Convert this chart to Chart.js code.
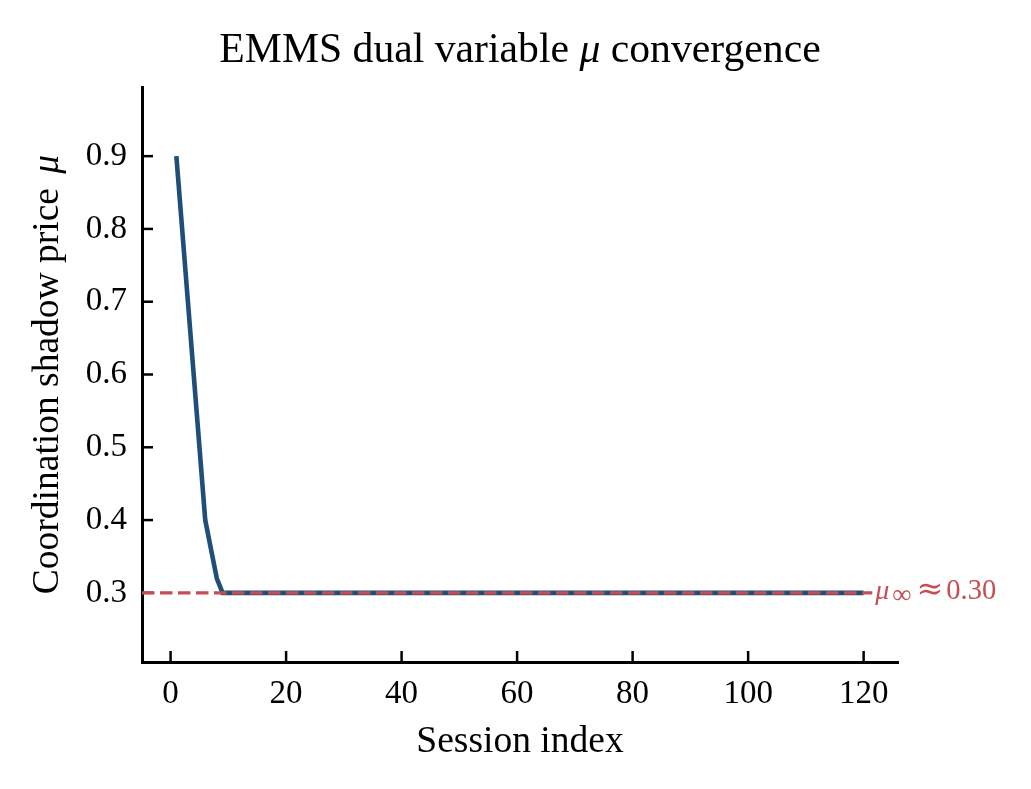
<!DOCTYPE html>
<html>
<head>
<meta charset="utf-8">
<script src="https://cdn.jsdelivr.net/npm/chart.js@4.4.1/dist/chart.umd.min.js"></script>
<style>
  html, body { margin: 0; padding: 0; background: #fff; }
  #wrap { width: 1031px; height: 789px; }
</style>
</head>
<body>
<div id="wrap"><canvas id="myChart" width="1031" height="789"></canvas></div>
<script>
// session index 1..120
const sessions = Array.from({ length: 120 }, (_, i) => i + 1);

// dual variable mu per session
const muValues = [
  0.9, 0.8, 0.7, 0.6, 0.5, 0.4, 0.36, 0.32, 0.3, 0.3,
  0.3, 0.3, 0.3, 0.3, 0.3, 0.3, 0.3, 0.3, 0.3, 0.3,
  0.3, 0.3, 0.3, 0.3, 0.3, 0.3, 0.3, 0.3, 0.3, 0.3,
  0.3, 0.3, 0.3, 0.3, 0.3, 0.3, 0.3, 0.3, 0.3, 0.3,
  0.3, 0.3, 0.3, 0.3, 0.3, 0.3, 0.3, 0.3, 0.3, 0.3,
  0.3, 0.3, 0.3, 0.3, 0.3, 0.3, 0.3, 0.3, 0.3, 0.3,
  0.3, 0.3, 0.3, 0.3, 0.3, 0.3, 0.3, 0.3, 0.3, 0.3,
  0.3, 0.3, 0.3, 0.3, 0.3, 0.3, 0.3, 0.3, 0.3, 0.3,
  0.3, 0.3, 0.3, 0.3, 0.3, 0.3, 0.3, 0.3, 0.3, 0.3,
  0.3, 0.3, 0.3, 0.3, 0.3, 0.3, 0.3, 0.3, 0.3, 0.3,
  0.3, 0.3, 0.3, 0.3, 0.3, 0.3, 0.3, 0.3, 0.3, 0.3,
  0.3, 0.3, 0.3, 0.3, 0.3, 0.3, 0.3, 0.3, 0.3, 0.3
];

// limiting value and the span of its dashed reference line
const muInf = 0.30;
const refLineX = [-4.95, 121.5];
const labelX = 122;

const xTicks = [0, 20, 40, 60, 80, 100, 120];
const yTicks = [0.3, 0.4, 0.5, 0.6, 0.7, 0.8, 0.9];

const xRange = [-4.95, 125.95];
const yRange = [0.205, 0.995];

const SERIF = "'Liberation Serif', 'Times New Roman', serif";
const BLUE = "#1f4e79";
const RED = "#c44e52";

// draws pieces of text one after another, each with its own font
function drawRuns(ctx, runs, x, y) {
  let cx = x;
  runs.forEach((r) => {
    ctx.font = r.font;
    cx += r.gap || 0;
    ctx.fillText(r.text, cx, y + (r.dy || 0));
    cx += ctx.measureText(r.text).width;
  });
}
function runsWidth(ctx, runs) {
  let w = 0;
  runs.forEach((r) => {
    ctx.font = r.font;
    w += (r.gap || 0) + ctx.measureText(r.text).width;
  });
  return w;
}

const innerTicks = {
  id: "innerTicks",
  beforeDatasetsDraw(chart) {
    const { ctx, chartArea } = chart;
    const xs = chart.scales.x;
    const ys = chart.scales.y;
    ctx.save();
    ctx.strokeStyle = "#000";
    ctx.lineWidth = 2.5;
    xTicks.forEach((v) => {
      const px = xs.getPixelForValue(v);
      ctx.beginPath();
      ctx.moveTo(px, chartArea.bottom);
      ctx.lineTo(px, chartArea.bottom - 11);
      ctx.stroke();
    });
    yTicks.forEach((v) => {
      const py = ys.getPixelForValue(v);
      ctx.beginPath();
      ctx.moveTo(chartArea.left, py);
      ctx.lineTo(chartArea.left + 11, py);
      ctx.stroke();
    });
    ctx.restore();
  },
};

const textLayer = {
  id: "textLayer",
  afterDraw(chart) {
    const { ctx, chartArea } = chart;
    const xs = chart.scales.x;
    const ys = chart.scales.y;
    const cx = (chartArea.left + chartArea.right) / 2;
    ctx.save();
    ctx.fillStyle = "#000";
    ctx.textBaseline = "alphabetic";
    ctx.textAlign = "left";

    // title
    const titleRuns = [
      { text: "EMMS dual variable ", font: "41.7px " + SERIF },
      { text: "μ", font: "italic 41.7px " + SERIF },
      { text: " convergence", font: "41.7px " + SERIF },
    ];
    drawRuns(ctx, titleRuns, cx - runsWidth(ctx, titleRuns) / 2, 62);

    // x label
    ctx.font = "37.5px " + SERIF;
    ctx.textAlign = "center";
    ctx.fillText("Session index", cx, 752);

    // y label
    ctx.textAlign = "left";
    const yRuns = [
      { text: "Coordination shadow price ", font: "37.5px " + SERIF },
      { text: "μ", font: "italic 37.5px " + SERIF, gap: 5 },
    ];
    ctx.save();
    ctx.translate(58, (chartArea.top + chartArea.bottom) / 2);
    ctx.rotate(-Math.PI / 2);
    drawRuns(ctx, yRuns, -runsWidth(ctx, yRuns) / 2, 0);
    ctx.restore();

    // annotation for the limit
    ctx.fillStyle = RED;
    const annRuns = [
      { text: "μ", font: "italic 28px " + SERIF },
      { text: "∞", font: "27px " + SERIF, gap: 3, dy: 4 },
      { text: "≈", font: "32px 'DejaVu Serif', serif", gap: 5 },
      { text: "0.30", font: "28.5px " + SERIF, gap: 3 },
    ];
    drawRuns(ctx, annRuns, xs.getPixelForValue(labelX), ys.getPixelForValue(muInf) + 6);
    ctx.restore();
  },
};

const ctx = document.getElementById("myChart");

new Chart(ctx, {
  type: "line",
  data: {
    labels: sessions,
    datasets: [
      {
        label: "mu_inf",
        data: refLineX.map((x) => ({ x: x, y: muInf })),
        borderColor: RED,
        borderWidth: 3.3,
        borderDash: [12.5, 5.5],
        pointRadius: 0,
        fill: false,
        order: 0,
      },
      {
        label: "mu",
        data: sessions.map((s, i) => ({ x: s, y: muValues[i] })),
        borderColor: BLUE,
        borderWidth: 4.6,
        pointRadius: 0,
        tension: 0,
        fill: false,
        order: 1,
      },
    ],
  },
  options: {
    responsive: false,
    devicePixelRatio: 1,
    animation: false,
    layout: { padding: { top: 87, right: 133, left: 0, bottom: 0 } },
    plugins: {
      legend: { display: false },
      tooltip: { enabled: false },
      title: { display: false },
    },
    scales: {
      x: {
        type: "linear",
        min: xRange[0],
        max: xRange[1],
        afterBuildTicks: (s) => { s.ticks = xTicks.map((v) => ({ value: v })); },
        afterFit: (s) => { s.height = 127; },
        grid: { display: false, drawTicks: false },
        border: { display: true, color: "#000", width: 3 },
        ticks: {
          padding: 13,
          color: "#000",
          maxRotation: 0,
          font: { family: SERIF, size: 33 },
          callback: (v) => String(v),
        },
      },
      y: {
        type: "linear",
        min: yRange[0],
        max: yRange[1],
        afterBuildTicks: (s) => { s.ticks = yTicks.map((v) => ({ value: v })); },
        afterFit: (s) => { s.width = 142; },
        grid: { display: false, drawTicks: false },
        border: { display: true, color: "#000", width: 3 },
        ticks: {
          padding: 15,
          color: "#000",
          font: { family: SERIF, size: 33 },
          callback: (v) => v.toFixed(1),
        },
      },
    },
  },
  plugins: [innerTicks, textLayer],
});
</script>
</body>
</html>
